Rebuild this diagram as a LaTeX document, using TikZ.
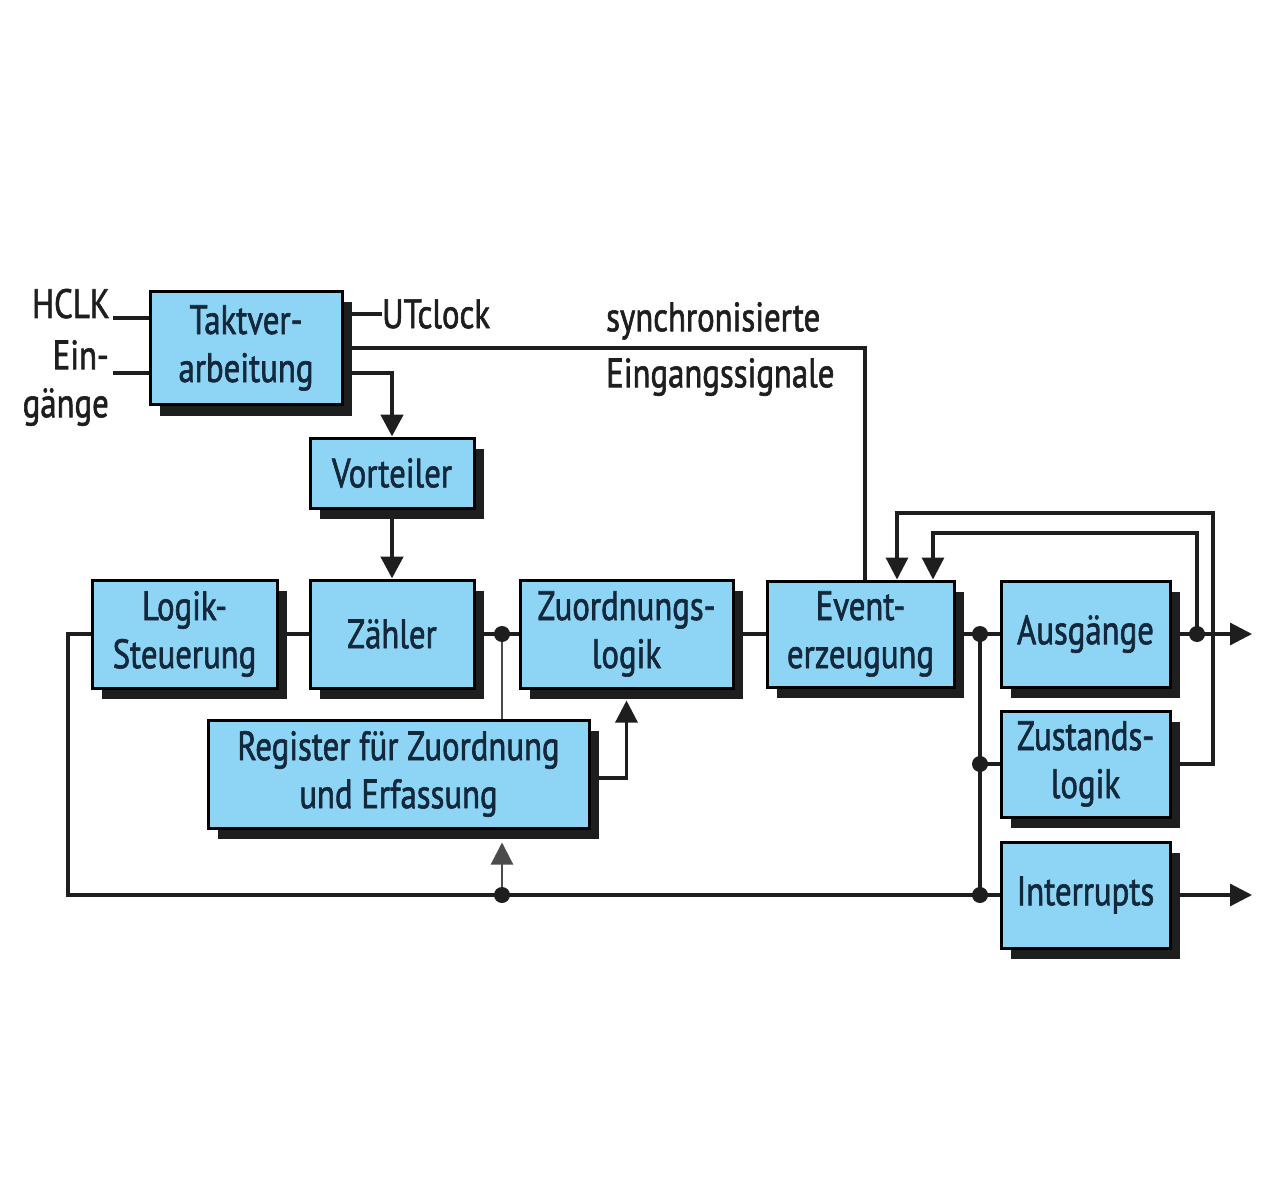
\documentclass[tikz,border=0pt]{standalone}
\usepackage{fontspec}
\setmainfont{PT Sans}[FakeStretch=0.8, FakeBold=1.5]
\usepackage{xcolor}
\usetikzlibrary{shadows,arrows.meta}
\definecolor{boxblue}{HTML}{8ED4F5}
\definecolor{boxtext}{HTML}{14283C}
\definecolor{wirecol}{HTML}{1E1E1E}

\begin{document}
\begin{tikzpicture}[x=1pt,y=-1pt,
    block/.style={draw=black, line width=3pt, fill=boxblue, text=boxtext, align=center, inner sep=0pt,
      font=\fontsize{41}{48}\selectfont,
      general shadow={fill=wirecol, shadow xshift=10pt, shadow yshift=-11pt}},
    lbl/.style={inner sep=0pt, text=wirecol, font=\fontsize{41}{48}\selectfont},
    wire/.style={draw=wirecol, line width=3.2pt},
    bigwire/.style={draw=wirecol, line width=4.8pt},
    thinwire/.style={draw=wirecol!80, line width=2.2pt},
    tip/.style={-{Triangle[width=22pt,length=22pt]}},
    dot/.style={circle, fill=wirecol, inner sep=0pt, minimum size=16pt}]
        \fill[white] (0,0) rectangle (1280,1190);
        \useasboundingbox (0,0) rectangle (1280,1190);

        % blocks
        \node[block, minimum width=192pt, minimum height=113pt] (takt) at (246,348) {Taktver-\\arbeitung};
        \node[block, minimum width=164pt, minimum height=70pt] (vort) at (392,473) {Vorteiler};
        \node[block, minimum width=185pt, minimum height=108pt] (logik) at (184.5,634) {Logik-\\Steuerung};
        \node[block, minimum width=164pt, minimum height=108pt] (zaehler) at (392,634) {Zähler};
        \node[block, minimum width=213pt, minimum height=108pt] (zuord) at (626.5,634) {Zuordnungs-\\logik};
        \node[block, minimum width=187pt, minimum height=106pt] (event) at (860.5,634) {Event-\\erzeugung};
        \node[block, minimum width=169pt, minimum height=106pt] (ausg) at (1085.5,634) {Ausgänge};
        \node[block, minimum width=169pt, minimum height=106pt] (zust) at (1085.5,764) {Zustands-\\logik};
        \node[block, minimum width=169pt, minimum height=106pt] (intr) at (1085.5,895) {Interrupts};
        \node[block, minimum width=381pt, minimum height=108pt] (reg) at (398.5,774) {Register für Zuordnung\\und Erfassung};

        % labels
        \node[lbl, anchor=base east] (hclk) at (110,318) {HCLK};
        \node[lbl, anchor=north east, align=right] (ein) at (109,340) {Ein-\\gänge};
        \node[lbl, anchor=west] (utclock) at (382,314) {UTclock};
        \node[lbl, anchor=north west, align=left, font=\fontsize{41}{56}\selectfont] (sync) at (606,302) {synchronisierte\\Eingangssignale};

        \coordinate (hclkin) at (113,318);
        \coordinate (einin) at (113,373);
        \coordinate (syncbend) at (865,348);
        \coordinate (j1) at (502,634);
        \coordinate (bus) at (68,895);
        \coordinate (j5) at (502,895);
        \coordinate (j2) at (980,634);
        \coordinate (j3) at (980,764);
        \coordinate (j4) at (980,895);
        \coordinate (j6) at (1197,634);
        \coordinate (fbin) at (933,533);
        \coordinate (fbout) at (897,513);
        \coordinate (fbside) at (1213,513);
        \coordinate (outa) at (1252,634);
        \coordinate (outi) at (1252,895);

        % connections
        \draw[wire] (hclkin) -- (hclkin -| takt.west);
        \draw[wire] (einin) -- (einin -| takt.west);
        \draw[wire] (utclock.west) -- (utclock.west -| takt.east);
        \draw[wire] (takt.east) -- (syncbend) -- (syncbend |- event.north);
        \draw[bigwire, tip] ([yshift=-25pt]takt.east) -| (vort.north);
        \draw[bigwire, tip] (vort.south) -- (zaehler.north);
        \draw[wire] (logik.east) -- (zaehler.west);
        \draw[wire] (zaehler.east) -- (zuord.west);
        \draw[thinwire] (j1) -- (j1 |- reg.north);
        \draw[wire] (zuord.east) -- (event.west);
        \draw[wire] (event.east) -- (ausg.west);
        \draw[wire] (j2) -- (j4);
        \draw[wire] (j3) -- (zust.west);
        \draw[wire] (logik.west) -| (bus) -- (intr.west);
        \draw[thinwire, tip, shorten >=13pt] (j5) -- (j5 |- reg.south);
        \draw[wire, tip, shorten >=11pt] ([yshift=-4pt]reg.east) -| (zuord.south);
        \draw[wire, tip] (ausg.east) -- (outa);
        \draw[wire, tip] (j6) |- (fbin) -- (fbin |- event.north);
        \draw[wire, tip] (zust.east) -| (fbside) -- (fbout) -- (fbout |- event.north);
        \draw[wire, tip] (intr.east) -- (outi);
        \foreach \j in {j1,j2,j3,j4,j5,j6}
            \node[dot] at (\j) {};
    \end{tikzpicture}
\end{document}
